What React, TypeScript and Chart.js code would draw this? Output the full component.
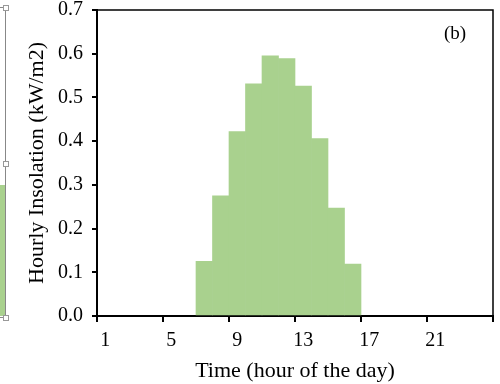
import React, { useEffect, useRef } from 'react';
import { Chart, registerables } from 'chart.js';
Chart.register(...registerables);

const hours = ['1', '2', '3', '4', '5', '6', '7', '8', '9', '10', '11', '12', '13', '14', '15', '16', '17', '18', '19', '20', '21', '22', '23', '24'];
const insolation = [null, null, null, null, null, null, 0.125, 0.275, 0.422, 0.531, 0.595, 0.589, 0.526, 0.406, 0.247, 0.119, null, null, null, null, null, null, null, null];
const labelEvery = 4;
const yMin = 0;
const yMax = 0.7;
const yStep = 0.1;
const panelLabel = '(b)';
const xTitle = 'Time (hour of the day)';
const yTitle = 'Hourly Insolation (kW/m2)';

const SERIF = '"Liberation Serif", "Times New Roman", serif';
const GREEN = '#a9d18e';

const frame = {
  id: 'frame',
  afterDraw(chart: any) {
    const { ctx, chartArea } = chart;
    ctx.save();
    ctx.strokeStyle = '#000';
    ctx.lineWidth = 1.5;
    ctx.beginPath();
    ctx.moveTo(chartArea.left, chartArea.top);
    ctx.lineTo(chartArea.right, chartArea.top);
    ctx.lineTo(chartArea.right, chartArea.bottom);
    ctx.stroke();
    ctx.fillStyle = '#000';
    ctx.font = '19px ' + SERIF;
    ctx.textAlign = 'left';
    ctx.textBaseline = 'middle';
    ctx.fillText(panelLabel, 444, 34);
    ctx.restore();
  },
};

export default function App() {
  const ref = useRef<HTMLCanvasElement>(null);
  useEffect(() => {
    const chart = new Chart(ref.current!, {
      type: 'bar',
      data: {
        labels: hours,
        datasets: [
          {
            data: insolation as any,
            backgroundColor: GREEN,
            borderWidth: 0,
            barPercentage: 1,
            categoryPercentage: 1,
          },
        ],
      },
      options: {
        animation: false,
        responsive: false,
        maintainAspectRatio: false,
        layout: { padding: { top: 10, right: 7, left: 0, bottom: 0 } },
        plugins: { legend: { display: false }, tooltip: { enabled: false } },
        scales: {
          x: {
            type: 'category',
            offset: true,
            afterFit: (s: any) => { s.height = 68; s.paddingLeft = 0; s.paddingRight = 0; },
            border: { display: true, color: '#000', width: 2 },
            grid: {
              offset: true,
              drawOnChartArea: false,
              drawTicks: true,
              tickLength: 6,
              lineWidth: 2,
              color: (c: any) => (c.index === undefined || c.index % labelEvery === 0 ? '#000' : 'rgba(0,0,0,0)'),
            },
            ticks: {
              autoSkip: false,
              maxRotation: 0,
              padding: 7,
              color: '#000',
              font: { family: SERIF, size: 20 },
              callback: (_v: any, i: number) => (i % labelEvery === 0 ? hours[i] : ''),
            },
            title: {
              display: true,
              text: xTitle,
              color: '#000',
              font: { family: SERIF, size: 22 },
              padding: { top: 0, bottom: 0 },
            },
          },
          y: {
            min: yMin,
            max: yMax,
            afterFit: (s: any) => { s.width = 97; s.paddingTop = 0; s.paddingBottom = 0; },
            border: { display: true, color: '#000', width: 2 },
            grid: {
              drawOnChartArea: false,
              drawTicks: true,
              tickLength: 5,
              lineWidth: 2,
              color: '#000',
            },
            ticks: {
              stepSize: yStep,
              padding: 9,
              color: '#000',
              font: { family: SERIF, size: 20 },
              callback: (v: any) => Number(v).toFixed(1),
            },
            title: {
              display: true,
              text: yTitle,
              color: '#000',
              font: { family: SERIF, size: 22 },
              padding: { top: 24, bottom: 0 },
            },
          },
        },
      },
      plugins: [frame],
    });
    return () => chart.destroy();
  }, []);

  return (
    <div style={{ position: 'fixed', left: 0, top: 0, width: 500, height: 384, background: '#fff' }}>
      <canvas ref={ref} width={500} height={384} style={{ position: 'absolute', left: 0, top: 0 }} />
      <div style={{ position: 'absolute', left: 0, top: 185, width: 5, height: 131, background: GREEN }} />
      <div style={{ position: 'absolute', left: 5, top: 7, width: 1, height: 311, background: '#888' }} />
      <div style={{ position: 'absolute', left: 0, top: 7, width: 5, height: 1, background: '#888' }} />
      <div style={{ position: 'absolute', left: 0, top: 317, width: 5, height: 1, background: '#888' }} />
      <div style={{ position: 'absolute', left: 3, top: 5, width: 4, height: 4, border: '1px solid #999', background: '#fff' }} />
      <div style={{ position: 'absolute', left: 3, top: 161, width: 4, height: 4, border: '1px solid #999', background: '#fff' }} />
      <div style={{ position: 'absolute', left: 3, top: 315, width: 4, height: 4, border: '1px solid #999', background: '#fff' }} />
    </div>
  );
}
